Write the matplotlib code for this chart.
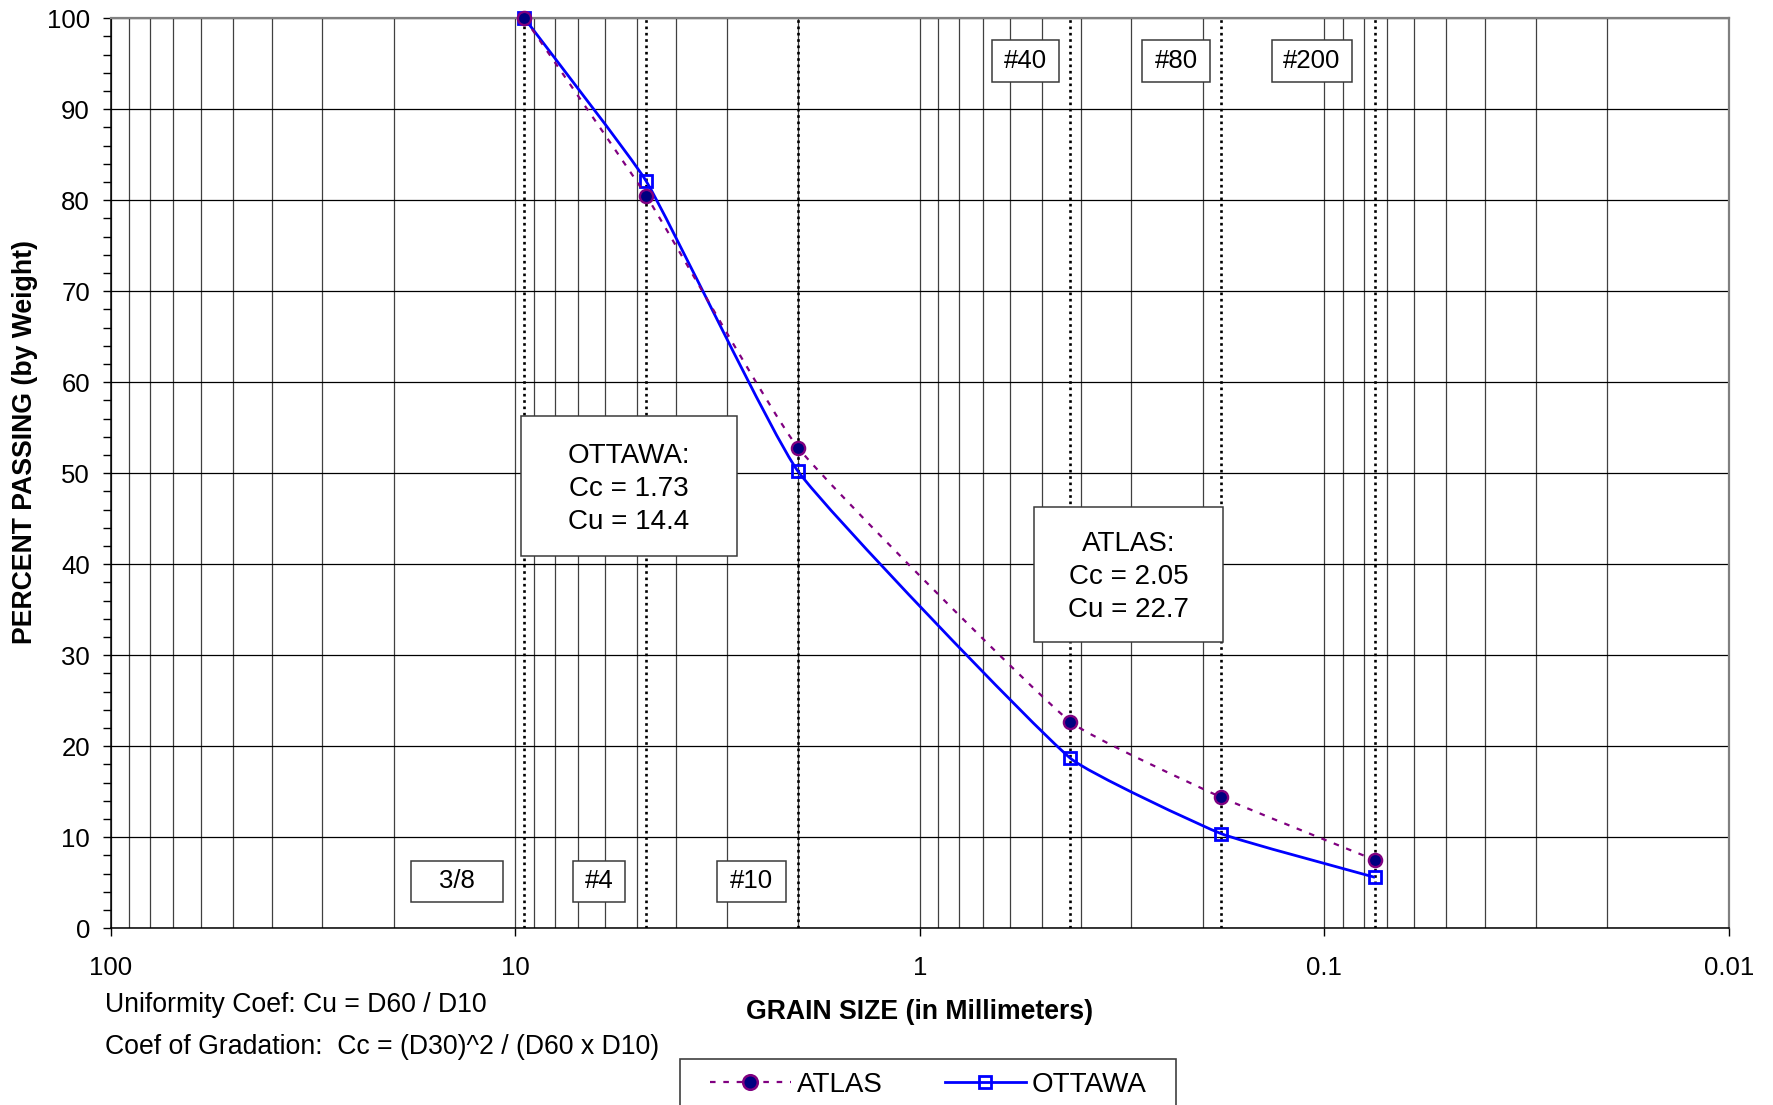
import numpy as np
import matplotlib
matplotlib.use('Agg')
import matplotlib.pyplot as plt
from matplotlib.path import Path
from matplotlib.patches import PathPatch, Rectangle
from matplotlib.lines import Line2D
from matplotlib.ticker import LogLocator, FuncFormatter, MultipleLocator, NullFormatter

plt.rcParams['font.family'] = ['Liberation Sans', 'DejaVu Sans']

# ---------------- data ----------------
sieve_labels = ['3/8', '#4', '#10', '#40', '#80', '#200']
grain_size_mm = [9.5, 4.75, 2.0, 0.425, 0.18, 0.075]
atlas_passing = [100, 80.5, 52.8, 22.7, 14.4, 7.5]
ottawa_passing = [100, 82.1, 50.2, 18.7, 10.4, 5.6]
ottawa_text = 'OTTAWA:\nCc = 1.73\nCu = 14.4'
atlas_text = 'ATLAS:\nCc = 2.05\nCu = 22.7'
x_ticks = [100, 10, 1, 0.1, 0.01]
y_ticks = list(range(0, 101, 10))

# ---------------- figure ----------------
W, H = 1773, 1105
fig = plt.figure(figsize=(W / 100, H / 100), dpi=100)
L, R, T, B = 110.8, 1728.9, 18.1, 928.3
ax = fig.add_axes([L / W, 1 - B / H, (R - L) / W, (B - T) / H])

ax.set_xscale('log')
ax.set_xlim(100, 0.01)
ax.set_ylim(0, 100)

ax.xaxis.set_major_locator(LogLocator(base=10, numticks=20))
ax.xaxis.set_minor_locator(LogLocator(base=10, subs=np.arange(2, 10), numticks=50))
ax.xaxis.set_major_formatter(FuncFormatter(lambda v, _: f'{v:g}'))
ax.xaxis.set_minor_formatter(NullFormatter())
ax.set_xticks(x_ticks)
ax.set_yticks(y_ticks)
ax.yaxis.set_minor_locator(MultipleLocator(2))

ax.tick_params(axis='x', which='major', direction='out', length=6, width=1,
               labelsize=18.5, pad=14)
ax.tick_params(axis='x', which='minor', length=0)
ax.tick_params(axis='y', which='major', direction='out', length=6, width=1,
               labelsize=18.5, pad=9)
ax.tick_params(axis='y', which='minor', direction='out', length=5.5, width=1)

ax.grid(which='both', axis='x', color='#404040', lw=0.9, zorder=1)
ax.grid(which='major', axis='y', color='black', lw=0.9, zorder=1)
ax.set_axisbelow(True)

for s in ['top', 'right']:
    ax.spines[s].set_color('#808080')
    ax.spines[s].set_linewidth(1.6)
for s in ['left', 'bottom']:
    ax.spines[s].set_color('black')
    ax.spines[s].set_linewidth(1.1)

# sieve dotted lines
for g in grain_size_mm:
    ax.axvline(g, color='black', ls=(0, (1, 1.4)), lw=1.9, zorder=2,
               dash_capstyle='butt')

# sieve label boxes (axes fraction)
box_rects = {
    '3/8': (0.1855, 0.2424, 0.0289, 0.0743),
    '#4': (0.2855, 0.3178, 0.0289, 0.0743),
    '#10': (0.3745, 0.4171, 0.0289, 0.0743),
    '#40': (0.5448, 0.5860, 0.9295, 0.9759),
    '#80': (0.6373, 0.6793, 0.9295, 0.9759),
    '#200': (0.7176, 0.7669, 0.9295, 0.9759),
}


def boxed_text(x0, x1, y0, y1, txt, fs, ls=1.2, dy=0.0):
    ax.add_patch(Rectangle((x0, y0), x1 - x0, y1 - y0, transform=ax.transAxes,
                           facecolor='white', edgecolor='#3a3a3a', lw=1.1,
                           zorder=3))
    ax.text((x0 + x1) / 2, (y0 + y1) / 2 + dy, txt, transform=ax.transAxes,
            ha='center', va='center', fontsize=fs, linespacing=ls, zorder=4)


for lab in sieve_labels:
    x0, x1, y0, y1 = box_rects[lab]
    boxed_text(x0, x1, y0, y1, lab, 18.5)

boxed_text(0.2535, 0.3867, 0.4090, 0.5628, ottawa_text, 20, 1.35, dy=-0.003)
boxed_text(0.5707, 0.6872, 0.3149, 0.4626, atlas_text, 20, 1.35, dy=-0.003)


# smoothed curves (mild Excel-like smoothing in display space)
def smooth_path(xs, ys, tension=0.4):
    pts = ax.transData.transform(np.column_stack([xs, ys]))
    n = len(pts)
    verts = [pts[0]]
    codes = [Path.MOVETO]

    def tangent(i):
        a = pts[max(i - 1, 0)]
        b = pts[min(i + 1, n - 1)]
        d = b - a
        return d / np.hypot(*d)

    for i in range(n - 1):
        p1 = pts[i]
        p2 = pts[i + 1]
        seg = np.hypot(*(p2 - p1))
        c1 = p1 + tangent(i) * seg / 3.0 * tension
        c2 = p2 - tangent(i + 1) * seg / 3.0 * tension
        verts += [c1, c2, p2]
        codes += [Path.CURVE4] * 3
    data = ax.transData.inverted().transform(np.array(verts))
    return Path(data, codes)


purple = '#800080'
navy = '#000080'
blue = '#0000FF'

ax.add_patch(PathPatch(smooth_path(grain_size_mm, ottawa_passing),
                       fill=False, edgecolor=blue, lw=2.0, zorder=5,
                       clip_on=False))
ax.plot(grain_size_mm, ottawa_passing, ls='none', marker='s', ms=9,
        mfc='none', mec=blue, mew=2.0, zorder=6, clip_on=False)

ax.add_patch(PathPatch(smooth_path(grain_size_mm, atlas_passing),
                       fill=False, edgecolor=purple, lw=1.6,
                       ls=(0, (2.5, 3.5)), zorder=7, clip_on=False))
ax.plot(grain_size_mm, atlas_passing, ls='none', marker='o', ms=9.5,
        mfc=navy, mec=purple, mew=1.7, zorder=8, clip_on=False)

# labels
fig.text(25 / W, 1 - 442 / H, 'PERCENT PASSING (by Weight)', rotation=90,
         ha='center', va='center', fontsize=19.2, fontweight='bold')
fig.text(920 / W, 1 - 1012 / H, 'GRAIN SIZE (in Millimeters)',
         ha='center', va='center', fontsize=19.2, fontweight='bold')
fig.text(105 / W, 1 - 1005 / H, 'Uniformity Coef: Cu = D60 / D10',
         ha='left', va='center', fontsize=19.2)
fig.text(105 / W, 1 - 1047 / H, 'Coef of Gradation:  Cc = (D30)^2 / (D60 x D10)',
         ha='left', va='center', fontsize=19.2)

# legend frame + legend
fig.patches.append(Rectangle((680 / W, -0.01), 496 / W, (H - 1059) / H + 0.01,
                             transform=fig.transFigure, facecolor='white',
                             edgecolor='#404040', lw=1.2, zorder=0))
handles = [
    Line2D([], [], color=purple, ls=(0, (2.5, 3.5)), lw=1.6, marker='o', ms=10.5,
           mfc=navy, mec=purple, mew=1.8),
    Line2D([], [], color=blue, lw=2.0, marker='s', ms=9, mfc='none', mec=blue,
           mew=2.0),
]
fig.legend(handles, ['ATLAS', 'OTTAWA'], loc='center left',
           bbox_to_anchor=(710 / W, 1 - 1085 / H), ncol=2, frameon=False,
           fontsize=20, handlelength=2.9, handletextpad=0.22,
           columnspacing=2.25, borderpad=0, borderaxespad=0, numpoints=1)

fig.savefig('out.png', dpi=100)
